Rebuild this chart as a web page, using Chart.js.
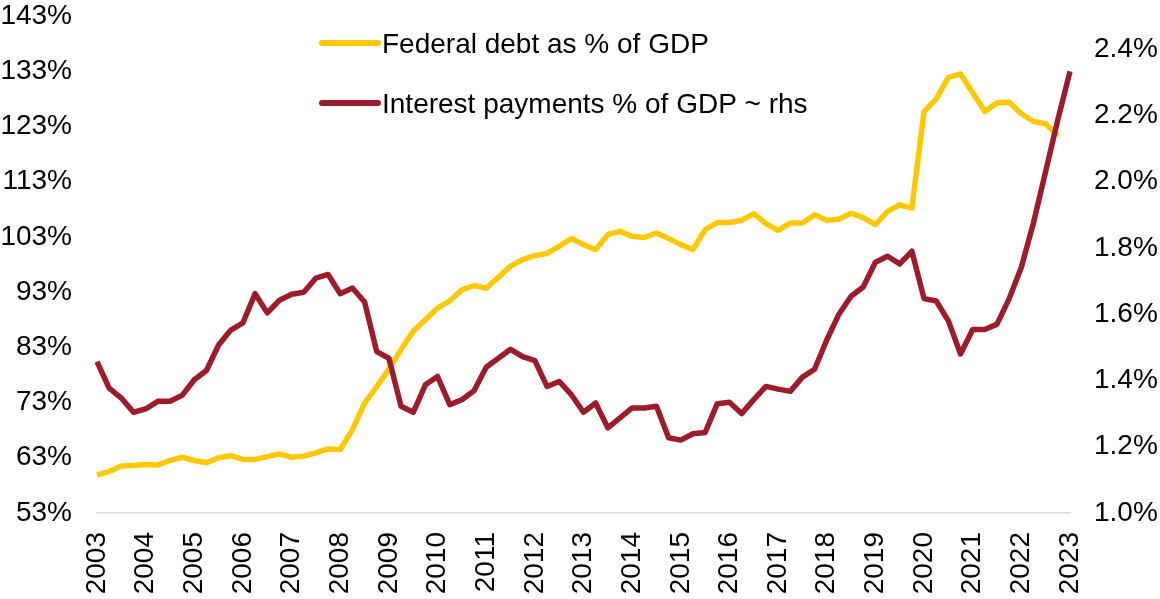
<!DOCTYPE html>
<html>
<head>
<meta charset="utf-8">
<title>Federal debt and interest payments</title>
<script src="https://cdn.jsdelivr.net/npm/chart.js@4"></script>
<style>
  html, body { margin: 0; padding: 0; background: #fff; }
  #wrap { width: 1160px; height: 599px; position: relative; }
</style>
</head>
<body>
<div id="wrap"><canvas id="debtChart"></canvas></div>
<script>
// Year tick labels (one every 4 quarters)
const years = ['2003', '2004', '2005', '2006', '2007', '2008', '2009', '2010', '2011', '2012',
  '2013', '2014', '2015', '2016', '2017', '2018', '2019', '2020', '2021', '2022', '2023'];

// Federal debt as % of GDP, quarterly from 2003 Q1 (left axis)
const debtPct = [
  59.9, 60.5, 61.5, 61.6, 61.8, 61.7, 62.5, 63.1, 62.5, 62.1,
  63.0, 63.4, 62.7, 62.7, 63.2, 63.7, 63.1, 63.3, 63.9, 64.6,
  64.5, 68.1, 72.9, 75.9, 79.0, 82.6, 85.9, 88.0, 90.1, 91.4,
  93.4, 94.2, 93.7, 95.7, 97.7, 98.9, 99.6, 100.0, 101.3, 102.7,
  101.6, 100.7, 103.4, 104.0, 103.1, 102.9, 103.7, 102.7, 101.6, 100.7,
  104.3, 105.6, 105.6, 106.0, 107.2, 105.4, 104.2, 105.5, 105.5, 107.0,
  106.0, 106.2, 107.3, 106.5, 105.2, 107.6, 108.8, 108.2, 125.7, 128.0,
  131.9, 132.5, 129.1, 125.7, 127.3, 127.4, 125.3, 123.9, 123.5, 121.3
];

// Interest payments as % of GDP, quarterly from 2003 Q1 (right axis)
const interestPct = [
  1.457, 1.377, 1.347, 1.304, 1.314, 1.337, 1.337, 1.355, 1.402, 1.430,
  1.507, 1.552, 1.574, 1.662, 1.604, 1.642, 1.660, 1.666, 1.709, 1.720,
  1.662, 1.679, 1.637, 1.487, 1.467, 1.322, 1.304, 1.387, 1.412, 1.327,
  1.342, 1.369, 1.440, 1.467, 1.494, 1.472, 1.460, 1.382, 1.397, 1.357,
  1.304, 1.332, 1.257, 1.287, 1.317, 1.317, 1.322, 1.227, 1.220, 1.239,
  1.243, 1.330, 1.334, 1.300, 1.342, 1.382, 1.374, 1.367, 1.410, 1.434,
  1.522, 1.600, 1.654, 1.682, 1.757, 1.775, 1.752, 1.790, 1.647, 1.640,
  1.580, 1.480, 1.554, 1.554, 1.570, 1.647, 1.742, 1.876, 2.031, 2.187,
  2.333
];

// quarterly categories, 2003 Q1 .. 2023 Q1
const quarters = [];
years.forEach(function(y, i) {
  const n = i === years.length - 1 ? 1 : 4;
  for (let q = 1; q <= n; q++) quarters.push(y + ' Q' + q);
});

const FONT = "'Liberation Sans', Arial, sans-serif";
const YELLOW = '#FFC800';
const RED = '#9B1C2A';

// legend drawn inside the plot, top middle
const insideLegend = {
  id: 'insideLegend',
  afterDraw(chart) {
    const ctx = chart.ctx;
    const rows = [{ ds: chart.data.datasets[0], y: 43 }, { ds: chart.data.datasets[1], y: 103 }];
    ctx.save();
    rows.forEach(function(r) {
      ctx.strokeStyle = r.ds.borderColor;
      ctx.lineWidth = 6;
      ctx.lineCap = 'round';
      ctx.beginPath();
      ctx.moveTo(322, r.y);
      ctx.lineTo(378, r.y);
      ctx.stroke();
      ctx.fillStyle = '#000';
      ctx.font = '28px ' + FONT;
      ctx.textBaseline = 'alphabetic';
      ctx.textAlign = 'left';
      ctx.fillText(r.ds.label, 382, r.y + 10);
    });
    ctx.restore();
  }
};

// fixed axis box sizes, no extra padding from the labels
function fixBox(size, horizontal) {
  return function(s) {
    if (horizontal) s.height = size; else s.width = size;
    s.paddingTop = 0;
    s.paddingBottom = 0;
  };
}

new Chart(document.getElementById('debtChart'), {
  type: 'line',
  data: {
    labels: quarters,
    datasets: [{
      label: 'Federal debt as % of GDP',
      data: debtPct,
      yAxisID: 'y',
      borderColor: YELLOW,
      borderWidth: 5.5,
      order: 1
    }, {
      label: 'Interest payments % of GDP ~ rhs',
      data: interestPct,
      yAxisID: 'y1',
      borderColor: RED,
      borderWidth: 5.5,
      order: 0
    }]
  },
  options: {
    responsive: true,
    maintainAspectRatio: false,
    animation: false,
    layout: { padding: { top: 16, left: 0, right: 0, bottom: 0 } },
    elements: {
      point: { radius: 0, hoverRadius: 0 },
      line: { tension: 0, borderJoinStyle: 'round', borderCapStyle: 'butt', fill: false }
    },
    plugins: { legend: { display: false }, tooltip: { enabled: false } },
    scales: {
      x: {
        offset: false,
        grid: { display: false, drawTicks: false },
        border: { display: true, color: '#d9d9d9', width: 1.5 },
        ticks: {
          autoSkip: false,
          maxRotation: 90,
          minRotation: 90,
          padding: 19,
          color: '#000',
          font: { family: FONT, size: 28, lineHeight: 1 },
          callback: function(v, i) { return i % 4 === 0 ? years[i / 4] : ''; }
        },
        afterFit: fixBox(86, true)
      },
      y: {
        position: 'left',
        min: 53,
        max: 143,
        grid: { display: false, drawTicks: false },
        border: { display: false },
        ticks: {
          stepSize: 10,
          padding: 25,
          color: '#000',
          font: { family: FONT, size: 28, lineHeight: 1 },
          callback: function(v) { return v + '%'; }
        },
        afterFit: fixBox(97, false)
      },
      y1: {
        position: 'right',
        min: 1.0,
        max: 2.5,
        grid: { display: false, drawTicks: false },
        border: { display: false },
        afterBuildTicks: function(s) {
          s.ticks = s.ticks.filter(function(t) { return Math.abs(t.value * 5 - Math.round(t.value * 5)) < 1e-6; });
        },
        ticks: {
          stepSize: 0.2,
          padding: 24,
          color: '#000',
          font: { family: FONT, size: 28, lineHeight: 1 },
          callback: function(v) { return v.toFixed(1) + '%'; }
        },
        afterFit: fixBox(90, false)
      }
    }
  },
  plugins: [insideLegend]
});
</script>
</body>
</html>
